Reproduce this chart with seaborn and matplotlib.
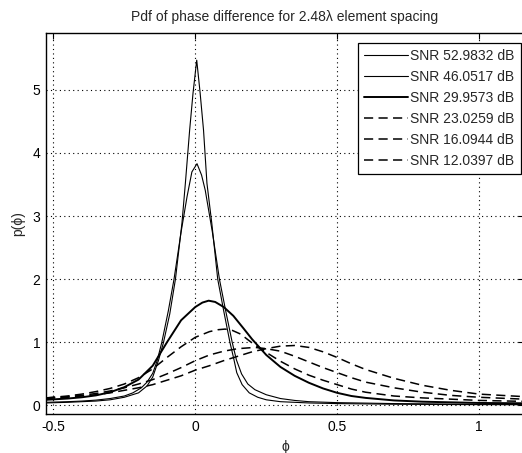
import numpy as np
import pandas as pd
import matplotlib
matplotlib.use("Agg")
import matplotlib.pyplot as plt
import seaborn as sns

# ---- data ----
labels = ["SNR 52.9832 dB", "SNR 46.0517 dB", "SNR 29.9573 dB",
          "SNR 23.0259 dB", "SNR 16.0944 dB", "SNR 12.0397 dB"]

phi_a = [-0.526, -0.45, -0.4, -0.35, -0.3, -0.25, -0.2, -0.17, -0.15, -0.13, -0.112, -0.09, -0.07,
         -0.047, -0.035, -0.02, -0.008, 0.005, 0.017, 0.029, 0.041, 0.058, 0.079, 0.1, 0.122, 0.135,
         0.146, 0.165, 0.19, 0.22, 0.25, 0.3, 0.4, 0.5, 0.7, 0.9, 1.158]
pdf_a = [0.04, 0.05, 0.06, 0.07, 0.09, 0.13, 0.2, 0.31, 0.45, 0.71, 1.0, 1.45, 2.0,
         2.89, 3.52, 4.36, 4.95, 5.47, 4.95, 4.36, 3.52, 2.89, 2.0, 1.5, 1.0, 0.75,
         0.52, 0.33, 0.2, 0.13, 0.09, 0.06, 0.04, 0.03, 0.02, 0.015, 0.012]

phi_b = [-0.526, -0.45, -0.4, -0.35, -0.3, -0.25, -0.22, -0.19, -0.17, -0.15, -0.135, -0.118, -0.095,
         -0.075, -0.05, -0.029, -0.012, 0.006, 0.022, 0.035, 0.06, 0.085, 0.107, 0.13, 0.145, 0.163,
         0.185, 0.21, 0.25, 0.3, 0.35, 0.4, 0.5, 0.7, 0.9, 1.158]
pdf_b = [0.05, 0.06, 0.07, 0.085, 0.11, 0.15, 0.2, 0.28, 0.37, 0.51, 0.7, 1.0, 1.5,
         2.0, 2.75, 3.31, 3.7, 3.83, 3.65, 3.41, 2.75, 2.0, 1.5, 1.0, 0.72, 0.5,
         0.34, 0.25, 0.17, 0.11, 0.08, 0.06, 0.045, 0.03, 0.022, 0.018]

phi_c = [-0.526, -0.45, -0.4, -0.35, -0.3, -0.25, -0.2, -0.15, -0.1, -0.05, 0.0, 0.025, 0.047, 0.07,
         0.1, 0.134, 0.17, 0.2, 0.25, 0.3, 0.35, 0.4, 0.45, 0.5, 0.55, 0.6, 0.7, 0.8, 0.9, 1.0, 1.158]
pdf_c = [0.09, 0.11, 0.13, 0.16, 0.21, 0.29, 0.41, 0.63, 1.0, 1.35, 1.56, 1.63, 1.66, 1.64,
         1.56, 1.42, 1.22, 1.05, 0.8, 0.61, 0.47, 0.36, 0.27, 0.2, 0.15, 0.12, 0.08, 0.06, 0.05, 0.04, 0.035]

phi_d = [-0.526, -0.45, -0.4, -0.35, -0.3, -0.25, -0.2, -0.15, -0.1, -0.05, 0.0, 0.05, 0.08, 0.105,
         0.13, 0.16, 0.2, 0.25, 0.3, 0.35, 0.4, 0.45, 0.5, 0.55, 0.6, 0.7, 0.8, 0.9, 1.0, 1.158]
pdf_d = [0.12, 0.15, 0.18, 0.22, 0.27, 0.34, 0.44, 0.58, 0.76, 0.93, 1.08, 1.17, 1.2, 1.21,
         1.19, 1.13, 0.99, 0.84, 0.7, 0.58, 0.48, 0.4, 0.33, 0.26, 0.21, 0.15, 0.12, 0.1, 0.08, 0.065]

phi_e = [-0.526, -0.45, -0.4, -0.35, -0.3, -0.25, -0.2, -0.15, -0.1, -0.05, 0.0, 0.05, 0.1, 0.15,
         0.21, 0.25, 0.3, 0.35, 0.4, 0.45, 0.5, 0.55, 0.6, 0.7, 0.8, 0.9, 1.0, 1.158]
pdf_e = [0.12, 0.14, 0.16, 0.19, 0.23, 0.28, 0.34, 0.41, 0.5, 0.6, 0.71, 0.8, 0.86, 0.9,
         0.92, 0.9, 0.86, 0.78, 0.69, 0.6, 0.52, 0.44, 0.37, 0.28, 0.21, 0.16, 0.13, 0.1]

phi_f = [-0.526, -0.45, -0.4, -0.35, -0.3, -0.25, -0.2, -0.15, -0.1, -0.05, 0.0, 0.05, 0.1, 0.15,
         0.2, 0.25, 0.3, 0.35, 0.4, 0.45, 0.5, 0.55, 0.6, 0.7, 0.8, 0.9, 1.0, 1.158]
pdf_f = [0.11, 0.13, 0.15, 0.17, 0.2, 0.24, 0.28, 0.33, 0.4, 0.47, 0.56, 0.63, 0.71, 0.78,
         0.85, 0.9, 0.94, 0.95, 0.92, 0.85, 0.76, 0.66, 0.57, 0.43, 0.32, 0.24, 0.18, 0.14]

xticks = [-0.5, 0, 0.5, 1]
xticklabels = ["-0.5", "0", "0.5", "1"]
yticks = [0, 1, 2, 3, 4, 5]
yticklabels = ["0", "1", "2", "3", "4", "5"]

# ---- style ----
sns.set_theme(style="white")
plt.rcParams["font.family"] = ["Liberation Sans", "DejaVu Sans"]
plt.rcParams["axes.unicode_minus"] = False

fig = plt.figure(figsize=(5.22, 4.53), dpi=100)
W, H = 522, 453
ax = fig.add_axes([46 / W, 1 - 414 / H, (524 - 46) / W, (414 - 33) / H])

series = [(phi_a, pdf_a), (phi_b, pdf_b), (phi_c, pdf_c),
          (phi_d, pdf_d), (phi_e, pdf_e), (phi_f, pdf_f)]
styles = [dict(lw=0.8, ls="-"), dict(lw=0.8, ls="-"), dict(lw=1.4, ls="-"),
          dict(lw=1.1, ls=(0, (6, 3.5))), dict(lw=1.1, ls=(0, (6, 3.5))), dict(lw=1.1, ls=(0, (6, 3.5)))]

for (xs, ys), lab, st in zip(series, labels, styles):
    df = pd.DataFrame({"phi": xs, "pdf": ys})
    sns.lineplot(data=df, x="phi", y="pdf", ax=ax, color="black",
                 linewidth=st["lw"], linestyle=st["ls"], label=lab, sort=False)

ax.set_xlim(-0.526, 1.158)
ax.set_ylim(-0.135, 5.9)
ax.set_xticks(xticks)
ax.set_xticklabels(xticklabels)
ax.set_yticks(yticks)
ax.set_yticklabels(yticklabels)
ax.grid(True, color="black", linestyle=(0, (1, 3)), linewidth=0.8)
ax.tick_params(direction="in", length=4, width=0.8, top=True, right=True,
               labelsize=10, colors="black", pad=4)
for s in ax.spines.values():
    s.set_color("black")
    s.set_linewidth(1.0)

ax.set_title("Pdf of phase difference for 2.48\u03bb element spacing", fontsize=10, pad=9)
ax.set_xlabel("\u03d5", fontsize=10, labelpad=5)
ax.set_ylabel("p(\u03d5)", fontsize=10, labelpad=5)

leg = ax.legend(loc="upper right", bbox_to_anchor=(521 / W, 1 - 43 / H),
                bbox_transform=fig.transFigure, borderaxespad=0,
                fontsize=10, frameon=True, fancybox=False, framealpha=1,
                edgecolor="black", handlelength=3.2, handletextpad=0.15,
                labelspacing=0.5, borderpad=0.45)
leg.get_frame().set_linewidth(0.9)

fig.savefig("out.png", dpi=100)
